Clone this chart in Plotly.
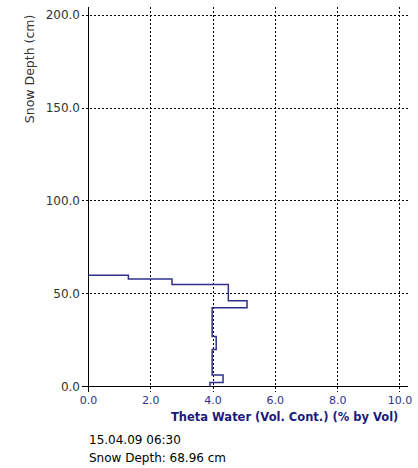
import plotly.graph_objects as go

# Layer boundaries (cm, from top of profile down to ground) and theta water per layer
layer_tops = [60.0, 58.0, 55.0, 46.3, 42.5, 27.0, 20.0, 6.3, 2.2]
layer_bottoms = [58.0, 55.0, 46.3, 42.5, 27.0, 20.0, 6.3, 2.2, 0.0]
theta_values = [1.28, 2.68, 4.49, 5.09, 3.97, 4.10, 3.97, 4.32, 3.90]

x_ticks = [0, 2, 4, 6, 8, 10]
y_ticks = [0, 50, 100, 150, 200]
timestamp = "15.04.09 06:30"
snow_depth_label = "Snow Depth: 68.96 cm"

# build step line
xs = [0.0]
ys = [layer_tops[0]]
for top, bot, th in zip(layer_tops, layer_bottoms, theta_values):
    xs += [th, th]
    ys += [top, bot]

fig = go.Figure()
fig.add_trace(go.Scatter(x=xs, y=ys, mode="lines",
                         line=dict(color="#30308a", width=1.5),
                         hoverinfo="skip", showlegend=False))

axis_common = dict(showline=False, zeroline=True, zerolinecolor="black",
                   zerolinewidth=1, showgrid=True, gridcolor="black",
                   gridwidth=1, griddash="2px,2px", ticks="", tickformat=".1f")

fig.update_xaxes(range=[-0.21, 10.26], tickvals=x_ticks,
                 tickfont=dict(family="DejaVu Sans", size=11, color="#30308a"),
                 ticklabelstandoff=0, **axis_common)
fig.update_yaxes(range=[-2.85, 204.4], tickvals=y_ticks,
                 tickfont=dict(family="DejaVu Sans", size=12, color="#333333"),
                 ticklabelstandoff=1, **axis_common)

L, R, T, B = 82, 6, 7, 76
W, H = 418, 468
pw, ph = W - L - R, H - T - B

def px(xp):
    return (xp - L) / pw

def py(yp):
    return (H - B - yp) / ph

annotations = [
    dict(text="Snow Depth (cm)", x=px(28.5), y=py(69), textangle=-90,
         font=dict(family="DejaVu Sans", size=12.5, color="#333333")),
    dict(text="<b>Theta Water (Vol. Cont.) (% by Vol)</b>", x=px(404), y=py(417),
         xanchor="right",
         font=dict(family="DejaVu Sans", size=11.5, color="#1a1a80")),
    dict(text=timestamp, x=px(87), y=py(440), xanchor="left",
         font=dict(family="DejaVu Sans", size=12, color="black")),
    dict(text=snow_depth_label, x=px(87), y=py(458), xanchor="left",
         font=dict(family="DejaVu Sans", size=12, color="black")),
]
for a in annotations:
    a.setdefault("xanchor", "center")
    a.update(xref="paper", yref="paper", yanchor="middle", showarrow=False)

fig.update_layout(width=W, height=H, margin=dict(l=L, r=R, t=T, b=B),
                  plot_bgcolor="white", paper_bgcolor="white",
                  annotations=annotations)

fig.write_html("out.html")
